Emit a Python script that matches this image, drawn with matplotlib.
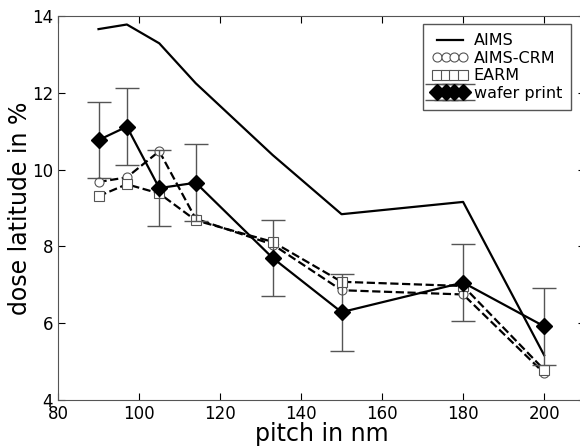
import numpy as np
import matplotlib
matplotlib.use('Agg')
import matplotlib.pyplot as plt

# pitch values (nm)
pitch = [90, 97, 105, 114, 133, 150, 180, 200]

# dose latitude in %
aims = [13.66, 13.78, 13.29, 12.25, 10.38, 8.84, 9.16, 5.17]
aims_crm = [9.68, 9.8, 10.48, 8.72, 8.05, 6.86, 6.75, 4.7]
earm = [9.31, 9.62, 9.38, 8.68, 8.12, 7.08, 6.97, 4.79]
wafer = [10.77, 11.12, 9.52, 9.66, 7.7, 6.29, 7.06, 5.92]
wafer_err = [1.0, 1.0, 1.0, 1.0, 1.0, 1.0, 1.0, 1.0]

fig = plt.figure(figsize=(5.8, 4.46), dpi=100)
ax = fig.add_axes([0.1, 0.103, 0.908, 0.861])

ax.plot(pitch, aims, '-', color='black', lw=1.6, label='AIMS')
ax.plot(pitch, aims_crm, '--', color='black', lw=1.6, marker='o', ms=6.5,
        mfc='white', mec='#555555', mew=0.8, label='AIMS-CRM')
ax.plot(pitch, earm, '--', color='black', lw=1.6, marker='s', ms=6.5,
        mfc='white', mec='#555555', mew=0.8, label='EARM')
ax.errorbar(pitch, wafer, yerr=wafer_err, fmt='-', color='black', lw=1.6,
            marker='D', ms=8.5, ecolor='#555555', elinewidth=1.0, capsize=8.3,
            capthick=1.0, label='wafer print')

ax.set_xlim(80, 210)
ax.set_ylim(4, 14)
ax.set_xticks([80, 100, 120, 140, 160, 180, 200])
ax.set_yticks([4, 6, 8, 10, 12, 14])
ax.tick_params(direction='in', top=True, right=True, labelsize=12, length=5)
ax.set_xlabel('pitch in nm', fontsize=17, labelpad=-1)
ax.set_ylabel('dose latitude in %', fontsize=17, labelpad=0)

for s in ax.spines.values():
    s.set_color('#555555')

leg = ax.legend(loc='upper right', numpoints=4, fontsize=11.5, handlelength=2.2,
                handletextpad=0.38, borderpad=0.6, labelspacing=0.15,
                borderaxespad=0, fancybox=False, framealpha=1,
                bbox_to_anchor=(0.975, 0.98))
leg.get_frame().set_edgecolor('#555555')

fig.savefig('out.png', dpi=100)
